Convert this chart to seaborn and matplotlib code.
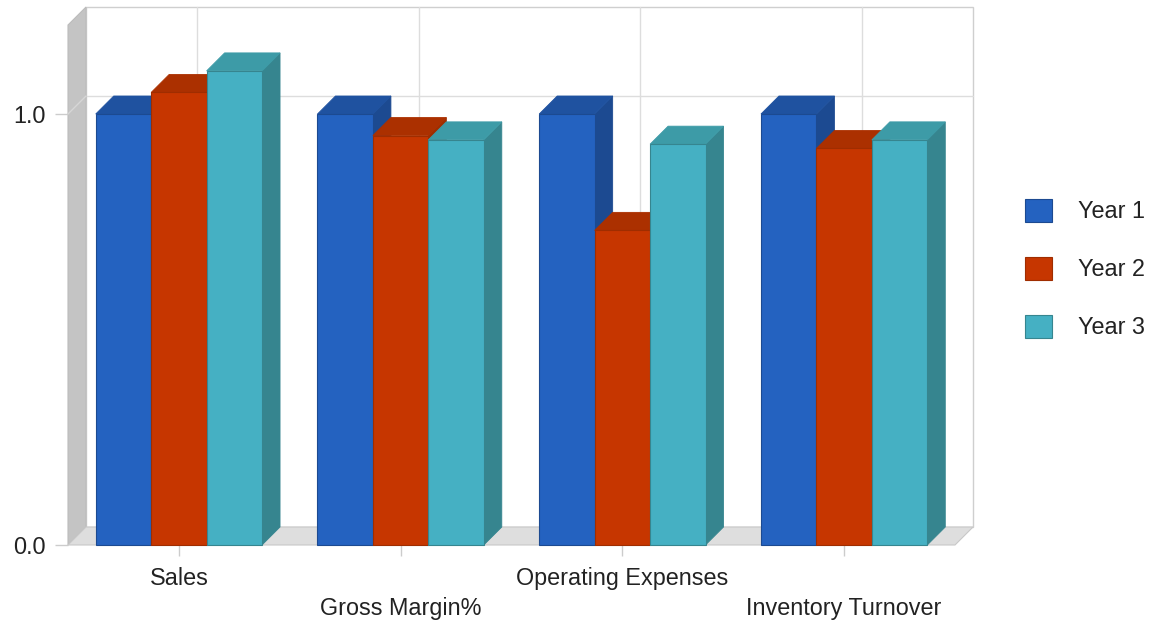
import numpy as np
import pandas as pd
import matplotlib
matplotlib.use("Agg")
import matplotlib.pyplot as plt
from matplotlib.patches import Polygon, Rectangle
from matplotlib.lines import Line2D
import seaborn as sns

# Data
metrics = ["Sales", "Gross Margin%", "Operating Expenses", "Inventory Turnover"]
years = ["Year 1", "Year 2", "Year 3"]
year1 = [1.00, 1.00, 1.00, 1.00]
year2 = [1.05, 0.95, 0.73, 0.92]
year3 = [1.10, 0.94, 0.93, 0.94]
y_ticks = [0.0, 1.0]
y_tick_labels = ["0.0", "1.0"]

# Colours: front face, top face, side face
front_colors = ["#2462c0", "#c63600", "#45b0c3"]
top_colors = ["#1f52a0", "#ab3000", "#3d9ba7"]
side_colors = ["#1c4a91", "#9f2d00", "#36858f"]

df = pd.DataFrame({
    "Metric": metrics * 3,
    "Year": np.repeat(years, len(metrics)),
    "Value": year1 + year2 + year3,
})

sns.set_theme(style="white")
plt.rcParams["font.family"] = ["Liberation Sans", "DejaVu Sans"]

FS = 16.8
TEXT = "#222222"
GRID = "#dddddd"
W, H, DPI = 1170, 626, 100

fig = plt.figure(figsize=(W / DPI, H / DPI), dpi=DPI)
ax = fig.add_axes([68 / W, 81 / H, 887 / W, 520 / H])

sns.barplot(data=df, x="Metric", y="Value", hue="Year", order=metrics,
            hue_order=years, palette=front_colors, width=0.75,
            saturation=1, errorbar=None, ax=ax)

ytop = 1.2065
ax.set_xlim(-0.5, 3.5)
ax.set_ylim(0, ytop)

# depth of the pseudo-3D extrusion (18 px right and up), in data units
origin = ax.transData.transform((0, 0))
dx, dy = ax.transData.inverted().transform(origin + np.array([18, 18]))

x_lo, x_hi = -0.5, 3.5

# back wall
ax.add_patch(Rectangle((x_lo + dx, dy), x_hi - x_lo, ytop, facecolor="white",
                       edgecolor="#cfcfcf", linewidth=1.0, zorder=0.1,
                       clip_on=False))
# back-wall gridlines
for i in range(len(metrics)):
    ax.add_line(Line2D([i + dx, i + dx], [dy, ytop + dy], color=GRID,
                       linewidth=1.0, zorder=0.2, clip_on=False))
for t in y_ticks[1:]:
    ax.add_line(Line2D([x_lo + dx, x_hi + dx], [t + dy, t + dy], color=GRID,
                       linewidth=1.0, zorder=0.2, clip_on=False))

# left wall
ax.add_patch(Polygon([(x_lo, 0), (x_lo, ytop), (x_lo + dx, ytop + dy),
                      (x_lo + dx, dy)], closed=True, facecolor="#c4c4c4",
                     edgecolor="#bcbcbc", linewidth=0.8, zorder=0.3,
                     clip_on=False))
for t in y_ticks[1:]:
    ax.add_line(Line2D([x_lo, x_lo + dx], [t, t + dy], color="#d6d6d6",
                       linewidth=1.0, zorder=0.35, clip_on=False))

# floor
ax.add_patch(Polygon([(x_lo, 0), (x_hi, 0), (x_hi + dx, dy), (x_lo + dx, dy)],
                     closed=True, facecolor="#dedede", edgecolor="#c8c8c8",
                     linewidth=0.8, zorder=0.4, clip_on=False))

# extrude every bar: side face, top face, then the front face on top
for h, container in enumerate(ax.containers):
    for p in container:
        x0 = p.get_x()
        x1 = x0 + p.get_width()
        v = p.get_height()
        side = Polygon([(x1, 0), (x1 + dx, dy), (x1 + dx, v + dy), (x1, v)],
                       closed=True, facecolor=side_colors[h],
                       edgecolor=side_colors[h], linewidth=0.6,
                       zorder=3 + h, clip_on=False)
        top = Polygon([(x0, v), (x1, v), (x1 + dx, v + dy), (x0 + dx, v + dy)],
                      closed=True, facecolor=top_colors[h],
                      edgecolor=top_colors[h], linewidth=0.6,
                      zorder=3 + h, clip_on=False)
        ax.add_patch(side)
        ax.add_patch(top)
        p.set_zorder(3.5 + h)
        p.set_edgecolor(side_colors[h])
        p.set_linewidth(0.8)
        p.set_clip_on(False)

# axes styling
sns.despine(ax=ax, left=True, bottom=True, top=True, right=True)
ax.set_xlabel("")
ax.set_ylabel("")
ax.set_yticks(y_ticks)
ax.set_yticklabels(y_tick_labels)
ax.set_xticks(range(len(metrics)))
ax.set_xticklabels([m if i % 2 == 0 else "\n" + m for i, m in enumerate(metrics)],
                   linespacing=1.39)
ax.tick_params(axis="y", left=True, length=9.4, width=1.0, color="#cccccc",
               pad=6.5, labelsize=FS, labelcolor=TEXT)
ax.tick_params(axis="x", bottom=True, length=8, width=1.0, color="#cccccc",
               pad=8, labelsize=FS, labelcolor=TEXT)

# legend on the right
handles, labels = ax.get_legend_handles_labels()
if ax.get_legend() is not None:
    ax.get_legend().remove()
leg = fig.legend(handles, labels, loc="center left",
                 bbox_to_anchor=(1025 / W, 1 - 269 / H), frameon=False,
                 borderpad=0, borderaxespad=0, fontsize=FS,
                 handlelength=1.15, handleheight=1.15, handletextpad=1.1,
                 labelspacing=1.43)
for t in leg.get_texts():
    t.set_color(TEXT)
for hnd, c in zip(leg.legend_handles, side_colors):
    hnd.set_edgecolor(c)
    hnd.set_linewidth(0.8)

fig.savefig("out.png", dpi=DPI)
